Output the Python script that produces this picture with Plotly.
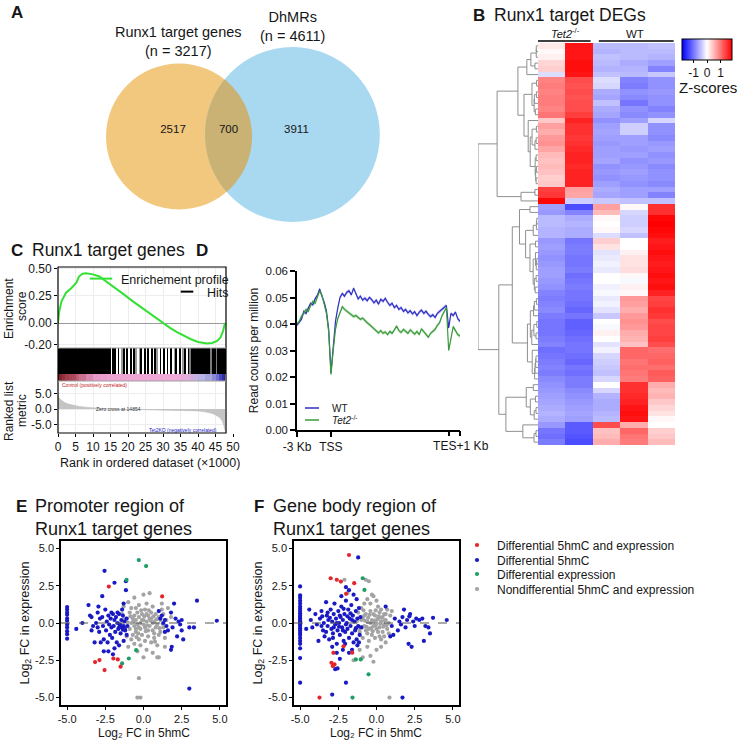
import numpy as np
import plotly.graph_objects as go

W, H = 746, 740
FONT = "Liberation Sans, Arial, Helvetica, sans-serif"
INK = "#161616"


def X(px):
    return px / W


def Y(py):
    return 1 - py / H


# ======================= DATA =======================
# --- A: Venn ---
venn_set_names = ["Runx1 target genes", "DhMRs"]
venn_set_sizes = [3217, 4611]
venn_region_counts = [2517, 700, 3911]

# --- B: heatmap of z-scores (rows in clustered order) ---
heat_samples = ["Tet2-/- #1", "Tet2-/- #2", "WT #1", "WT #2", "WT #3"]
tet2_rep1 = [0.15, 0.05, 0.1, 0.3, 0.35, -0.25, 0.9, 0.95, 0.9, 0.95, 0.95, 0.9, 1.0, 0.4,
             0.7, 0.6, 0.75, 0.8, 0.65, 0.5, 0.45, 0.5, 0.45, 0.35, 0.4, 1.4, 1.45, 1.8,
             -0.7, -0.75, -0.5, -0.5, -0.55, -0.55, -0.75, -0.7, -0.75, -0.8, -0.75, -0.7, -0.7, -0.75,
             -0.8, -0.9, -0.95, -0.9, -0.85, -0.95, -1.0, -1.0, -1.0, -0.95, -0.9, -1.05, -1.0, -0.95,
             -0.9, -0.95, -0.85, -0.8, -0.75, -0.7, -0.65, -0.6, -0.55, -0.6, -0.75, -1.0, -1.05, -0.95]
tet2_rep2 = [1.7, 1.7, 1.7, 1.75, 1.75, 1.7, 1.3, 1.25, 1.3, 1.25, 1.3, 1.3, 1.4, 1.6,
             1.5, 1.5, 1.45, 1.5, 1.55, 1.6, 1.6, 1.55, 1.6, 1.6, 1.6, 0.7, 0.65, -0.35,
             -1.3, -0.9, -0.6, -0.55, -0.6, -0.6, -1.0, -0.95, -0.95, -1.0, -1.0, -0.95, -1.05, -1.0,
             -0.95, -1.0, -1.0, -1.05, -1.1, -1.0, -1.15, -1.15, -1.1, -1.05, -1.0, -1.0, -1.05, -1.1,
             -1.0, -1.05, -0.95, -0.95, -0.85, -0.8, -0.75, -0.7, -0.65, -0.7, -1.2, -1.2, -1.25, -1.3]
wt_rep1 = [-0.5, -0.55, -0.45, -0.5, -0.55, -0.45, -0.25, -0.3, -0.6, -0.65, -0.45, -0.6, -0.65, -0.8,
           -0.7, -0.65, -0.7, -0.75, -0.7, -0.7, -0.65, -0.8, -0.75, -0.8, -0.7, -0.6, -0.65, -0.4,
           0.7, 0.5, 0.05, 0.0, 0.05, -0.25, 0.35, 0.2, -0.2, -0.15, -0.1, -0.15, 0.0, 0.0,
           -0.1, -0.05, -0.15, -0.1, -0.2, -0.4, 0.0, -0.05, 0.1, 0.0, -0.2, -0.1, -0.3, -0.35,
           -0.4, -0.45, -0.3, 0.0, -0.3, -0.55, -0.6, -0.6, -0.55, -0.5, 1.3, 0.45, 0.5, 0.6]
wt_rep2 = [-0.5, -0.5, -0.5, -0.6, -0.55, -0.5, -0.9, -0.95, -0.8, -0.85, -1.0, -0.8, -0.85, -0.7,
           -0.35, -0.35, -0.7, -0.7, -0.75, -0.7, -0.8, -0.75, -0.7, -0.75, -0.8, -0.7, -0.7, -0.45,
           0.05, -0.3, -0.35, -0.35, -0.3, -0.45, 0.0, 0.0, 0.1, 0.2, 0.2, 0.25, 0.05, -0.05,
           0.1, 0.05, 0.75, 0.7, 0.6, 0.75, 0.8, 0.75, 0.6, 0.55, 0.45, 1.1, 1.1, 1.0,
           1.05, 1.0, 0.95, 1.5, 1.5, 1.55, 1.6, 1.7, 1.75, 1.7, 0.6, 1.1, 1.0, 0.95]
wt_rep3 = [-0.45, -0.5, -0.55, -0.7, -0.9, -0.4, -0.8, -0.8, -0.75, -0.8, -0.8, -0.9, -0.8, -0.3,
           -0.8, -0.8, -0.85, -0.75, -0.7, -0.8, -0.75, -0.85, -0.8, -0.8, -0.85, -0.7, -0.9, -0.45,
           1.5, 1.5, 1.8, 1.85, 1.8, 1.75, 1.65, 1.7, 1.75, 1.7, 1.65, 1.7, 1.75, 1.7,
           1.75, 1.6, 1.35, 1.4, 1.5, 1.45, 1.3, 1.35, 1.35, 1.4, 1.3, 1.05, 1.1, 1.15,
           1.05, 1.2, 1.15, 0.6, 0.5, 0.55, 0.4, 0.3, 0.2, 0.05, 0.0, 0.35, 0.4, 0.5]
zscore_ticks = [-1, 0, 1]

# --- C: GSEA ---
es_rank_k = [0, 0.3, 1, 2.3, 3.7, 5.2, 6, 7, 8, 10, 11.8, 14, 16.7, 19, 21.4, 24, 26, 28, 30,
             32, 34, 36, 38, 40, 41.5, 42.6, 44, 45.5, 46.5, 47.2, 47.7]
es_score = [0, 0.1, 0.2, 0.28, 0.32, 0.37, 0.43, 0.455, 0.46, 0.45, 0.43, 0.38, 0.32, 0.26, 0.2,
            0.14, 0.09, 0.045, 0.0, -0.045, -0.085, -0.12, -0.15, -0.175, -0.185, -0.19, -0.185,
            -0.165, -0.13, -0.07, 0.0]
hit_bin_k = [i * 0.5 for i in range(97)]
hit_density = ([1] * 30 +
               [0, 1, 1, 0, 1, 0, 0.5, 1, 0, 1, 0, 1, 0, 1, 0.5, 0, 0.5, 1, 0, 1, 0, 1,
                0, 1, 0, 1, 0.5, 0, 1, 0, 1, 0, 1, 0, 1, 0, 0.5, 1, 0, 1, 0, 0.5, 1, 0] +
               [1, 0.6, 1, 1, 1, 1, 1, 1, 1, 1, 1, 1, 1, 0.6, 1, 1, 0.6, 1, 1, 1, 1, 1])
metric_rank_k = [0, 0.3, 1, 2, 3, 4, 5, 6, 8, 10, 12, 14, 14.85, 17, 20, 25, 30, 35, 38, 40,
                 42, 44, 45, 46, 46.8, 47.3, 47.7]
metric_value = [4.8, 3.6, 2.8, 2.0, 1.6, 1.3, 1.05, 0.85, 0.6, 0.4, 0.25, 0.1, 0, -0.05, -0.1,
                -0.15, -0.2, -0.3, -0.45, -0.6, -0.9, -1.4, -1.9, -2.6, -3.6, -5.0, -7.0]
gsea_rank_ticks = [0, 5, 10, 15, 20, 25, 30, 35, 40, 45, 50]

# --- D: 5hmC profile ---
profile_bin = list(range(0, 145, 2))
profile_ticks = [0, 30, 134, 144]
profile_ticklabels = ["-3 Kb", "TSS", "TES", "+1 Kb"]
wt_profile = [0.0396, 0.0405, 0.0418, 0.0448, 0.0440, 0.0460, 0.0478, 0.0472, 0.0495, 0.0508,
              0.0532, 0.0505, 0.0482, 0.0450, 0.0380, 0.0215, 0.0310, 0.0410, 0.0460, 0.0500,
              0.0515, 0.0505, 0.0520, 0.0525, 0.0510, 0.0535, 0.0515, 0.0495, 0.0505, 0.0490,
              0.0498, 0.0488, 0.0500, 0.0492, 0.0480, 0.0490, 0.0475, 0.0493, 0.0485, 0.0497,
              0.0482, 0.0470, 0.0478, 0.0462, 0.0470, 0.0455, 0.0462, 0.0448, 0.0455, 0.0442,
              0.0450, 0.0438, 0.0446, 0.0432, 0.0445, 0.0452, 0.0440, 0.0448, 0.0436, 0.0428,
              0.0435, 0.0425, 0.0440, 0.0448, 0.0455, 0.0462, 0.0470, 0.0385, 0.0440, 0.0432,
              0.0445, 0.0420, 0.0410]
tet2_profile = [0.0400, 0.0410, 0.0430, 0.0440, 0.0455, 0.0448, 0.0470, 0.0485, 0.0478, 0.0500,
                0.0525, 0.0510, 0.0470, 0.0440, 0.0370, 0.0210, 0.0300, 0.0380, 0.0420, 0.0440,
                0.0465, 0.0455, 0.0448, 0.0440, 0.0435, 0.0428, 0.0432, 0.0425, 0.0418, 0.0422,
                0.0412, 0.0405, 0.0398, 0.0390, 0.0380, 0.0372, 0.0366, 0.0375, 0.0365, 0.0370,
                0.0360, 0.0372, 0.0365, 0.0378, 0.0392, 0.0375, 0.0368, 0.0380, 0.0372, 0.0365,
                0.0378, 0.0370, 0.0362, 0.0372, 0.0360, 0.0382, 0.0370, 0.0362, 0.0350, 0.0365,
                0.0372, 0.0380, 0.0395, 0.0405, 0.0430, 0.0445, 0.0462, 0.0300, 0.0340, 0.0390,
                0.0375, 0.0360, 0.0355]
profile_sem = 0.0007

# --- E: promoter scatter (log2 FC 5hmC, log2 FC expression) ---
e_red = [(-2.27, 2.44), (1.22, 1.78), (-3.17, -2.62), (-2.88, -2.49), (-2.55, -3.16),
         (-1.97, -2.38), (-1.68, -2.44), (-1.5, -2.93)]
e_green = [(-0.31, 4.22), (0.17, 3.82), (-1.11, 2.89), (-0.48, -1.82), (-0.96, -2.38), (-1.4, -2.71)]
e_blue = [(-5, 1.07), (-5, 0.9), (-5, 0.7), (-5, 0.55), (-5, 0.3), (-5, 0.15), (-5, -0.1), (-5, -0.3),
          (-5, -0.55), (-5, -0.75), (-5, -1.05),
          (-4.4, -0.4), (-4.0, 0.0), (-3.6, 1.2), (-3.5, 0.5), (-3.4, 0.4), (-3.3, -0.2), (-3.2, -1.3),
          (-3.1, 0.0), (-3.0, 0.7), (-2.95, 1.1), (-2.9, -0.6), (-2.85, 0.3), (-2.8, -1.3), (-2.7, 0.4),
          (-2.65, -0.2), (-2.6, -1.1), (-2.55, 3.5), (-2.5, 0.9), (-2.45, -0.5), (-2.4, 0.1), (-2.35, -1.3),
          (-2.3, 0.5), (-2.25, -0.1), (-2.2, -0.8), (-2.15, 0.3), (-2.1, -0.3), (-2.05, -1.0), (-2.0, 0.6),
          (-1.95, -0.2), (-1.9, 2.7), (-1.9, 0.2), (-1.85, -0.6), (-1.8, 0.4), (-1.75, -1.3), (-1.7, 0.0),
          (-1.65, -0.4), (-1.6, 0.6), (-1.55, -0.1), (-1.5, -0.7), (-1.45, 0.2), (-1.4, -0.3), (-1.35, 0.5),
          (-1.3, -0.2), (-1.3, -1.2), (-1.25, 0.1), (-1.2, -0.5), (-1.15, 2.8), (-1.15, 2.2), (-1.1, 0.3),
          (-1.1, -0.8), (-1.05, -0.2), (-2.7, 1.8), (-3.4, -0.5), (-3.0, -0.3), (-2.3, -1.9), (-1.9, -1.7),
          (-2.0, -2.1), (-1.6, -1.5), (-2.6, -1.9), (-1.3, 1.3), (-1.4, 0.9), (-1.7, 0.7), (-2.1, 0.7),
          (-1.5, -0.15), (-1.35, -0.45), (-1.25, -0.35), (-1.45, -0.25), (-1.6, -0.3), (1.0, 0.8),
          (1.2, 0.5), (1.3, 0.0), (1.4, 0.2), (1.5, -0.2), (1.6, -0.5), (1.8, 0.7), (1.9, -0.3),
          (2.0, 1.3), (2.1, 0.3), (2.2, -0.9), (2.4, -0.1), (2.5, -0.5), (2.6, -1.1), (1.8, -1.8),
          (1.85, -1.6), (3.0, -0.3), (3.3, -0.3), (3.5, 1.5), (4.8, 0.15), (3.0, -4.4), (1.1, 0.3),
          (1.4, -0.6), (2.3, 0.1), (2.5, 0.2)]
e_gray = [(-1.2, 0.3), (-1.0, 1.4), (-0.8, 1.0), (-0.6, 0.5), (-0.5, 0.2), (-0.4, -0.1), (-0.3, 0.4),
          (-0.2, 0.0), (-0.1, 0.6), (0.0, 0.2), (0.1, -0.3), (0.2, 0.1), (0.3, 0.5), (0.4, -0.2),
          (0.5, 0.3), (0.6, -0.5), (0.7, 0.1), (0.8, 0.6), (0.9, -0.1), (1.0, 0.4), (1.1, -0.6),
          (1.2, 0.9), (1.3, -0.3), (1.5, 0.2), (-0.9, -0.4), (-0.7, -0.8), (-0.5, -0.6), (-0.3, -1.1),
          (-0.1, -0.8), (0.1, -1.2), (0.3, -0.9), (0.5, -1.3), (0.7, -1.0), (0.9, -1.5), (-0.6, 1.7),
          (-0.3, 1.2), (0.0, 1.9), (0.4, 2.0), (0.2, 1.3), (0.6, 1.1), (-0.8, 0.0), (-0.6, -0.2),
          (-0.4, 0.7), (-0.2, -0.4), (0.0, -0.1), (0.2, 0.6), (0.4, 0.3), (0.6, 0.0), (0.8, -0.3),
          (1.0, -0.8), (-1.1, -0.9), (-0.9, 0.7), (-0.7, 0.3), (-0.5, 1.0), (-0.3, -0.3), (-0.1, 0.2),
          (0.1, 0.9), (0.3, -0.5), (0.5, 0.7), (0.7, -0.7), (1.1, 0.2), (1.3, 0.6), (1.4, -1.0),
          (-1.0, -1.6), (-0.6, -1.4), (-0.2, -1.5), (0.2, -1.8), (0.6, -2.0), (1.0, -2.3), (1.4, -1.6),
          (-0.4, -1.9), (0.0, -2.3), (-0.3, -3.7), (-0.4, -5.0), (-0.2, -5.0), (0.9, -2.3), (1.6, 1.0),
          (1.8, 0.4), (1.2, 1.3), (-1.3, 1.1), (-1.4, 0.6), (-1.2, -0.4), (-0.8, -1.1), (-0.5, -0.4),
          (0.05, 0.45), (0.25, -0.15), (0.45, 0.15), (-0.15, 0.85), (-0.35, -0.7), (0.65, 0.45),
          (0.85, 0.25), (1.05, -0.35), (-0.65, 0.15), (-0.45, -0.95), (0.15, -0.55), (0.35, 0.85),
          (-0.85, 0.45), (0.75, -1.25), (-1.05, 0.05), (1.25, -0.05)]

# --- F: gene body scatter ---
f_red = [(-1.8, 4.56), (-3.0, 3.0), (-2.6, 2.9), (-2.33, 2.78), (-1.46, 2.67), (-1.99, 1.96),
         (-2.82, -2.0), (-2.95, -2.67), (-2.75, -2.78), (-2.86, -2.89), (-3.73, -5.0), (-1.59, -1.99),
         (-2.16, -1.56)]
f_green = [(-0.9, 3.0), (-0.79, 2.22), (-1.35, -2.44), (-1.03, -2.44), (-0.52, -3.44), (-1.57, -5.0)]
f_blue = [(-5, 2.45), (-5, 1.85), (-5, 1.7), (-5, 1.5), (-5, 1.3), (-5, 1.1), (-5, 0.95), (-5, 0.8),
          (-5, 0.65), (-5, 0.5), (-5, 0.4), (-5, 0.3), (-5, 0.2), (-5, 0.1), (-5, 0.0), (-5, -0.1),
          (-5, -0.2), (-5, -0.35), (-5, -0.5), (-5, -0.65), (-5, -0.8), (-5, -1.0), (-5, -1.2),
          (-5, -1.4), (-5, -1.7), (-5, -2.35), (-5, -4.0),
          (-4.6, -0.4), (-4.4, 0.9), (-4.3, 0.2), (-4.2, -0.3), (-4.0, 0.6), (-3.9, -0.1), (-3.8, -1.2),
          (-3.7, 0.3), (-3.6, 0.8), (-3.5, -0.5), (-3.45, 0.0), (-3.4, -0.9), (-3.3, 1.4), (-3.25, 0.5),
          (-3.2, -0.2), (-3.15, 0.2), (-3.1, -1.1), (-3.0, 0.9), (-2.95, -0.4), (-2.9, 0.1), (-2.85, -0.7),
          (-2.8, 0.6), (-2.75, 1.3), (-2.7, -0.1), (-2.65, 0.3), (-2.6, -1.4), (-2.55, -0.5), (-2.5, 0.8),
          (-2.45, 0.0), (-2.4, -0.8), (-2.35, 0.4), (-2.3, 1.1), (-2.25, -0.3), (-2.2, 0.2), (-2.15, -1.2),
          (-2.1, 0.6), (-2.05, -0.6), (-2.0, 1.5), (-1.95, 0.0), (-1.9, -0.4), (-1.85, 0.9), (-1.8, -1.0),
          (-1.75, 0.3), (-1.7, -0.2), (-1.65, 1.2), (-1.6, -0.7), (-1.55, 0.5), (-1.5, -1.3), (-1.45, 0.1),
          (-1.4, -0.5), (-1.35, 0.8), (-1.3, -1.1), (-1.25, 0.3), (-1.2, -0.2), (-1.15, 1.0), (-1.1, -0.8),
          (-1.05, 0.4), (-1.0, -0.3), (-2.9, -1.6), (-2.6, -2.0), (-2.4, -2.4), (-2.2, -1.8), (-1.8, -2.0),
          (-1.6, -1.8), (-2.7, -3.1), (-2.55, -3.05), (-2.0, 2.4), (-1.8, 2.2), (-2.3, 1.8), (-1.5, 1.9),
          (-1.3, 1.6), (-3.6, -0.2), (-3.2, 0.7), (-2.8, -0.3), (-2.4, 0.5), (-2.0, -0.1), (-1.6, 0.2),
          (-2.6, 0.0), (-2.2, -0.5), (-1.9, 0.45), (-2.45, -0.25), (-3.05, 0.35), (-1.7, 0.65),
          (-2.85, -1.0), (-2.15, 0.95), (-1.35, -0.35), (-1.25, -1.5), (-1.15, -1.3), (-2.05, -1.4),
          (-3.3, -0.6), (-3.55, 0.45), (-1.2, 4.4), (-2.9, -4.8), (-2.0, -4.0), (1.7, -5.0),
          (1.0, -0.2), (1.2, 0.3), (1.4, -0.5), (1.5, 0.1), (1.6, -0.1), (1.7, 0.4), (1.8, 0.9),
          (1.9, -0.3), (2.0, 0.2), (2.1, -1.4), (2.2, 0.6), (2.3, -1.6), (2.4, 0.1), (2.5, -0.2),
          (2.6, 0.3), (2.8, 0.2), (3.0, 0.3), (3.1, -1.2), (3.2, -0.2), (3.4, -0.3), (3.5, -0.7),
          (3.7, 0.35), (4.6, 0.2), (0.6, 1.1), (1.1, -0.8), (2.15, 0.45), (0.9, -0.9)]
f_gray = [(-1.2, 0.7), (-1.0, 1.0), (-0.9, 0.3), (-0.8, -0.2), (-0.7, 0.6), (-0.6, 0.1), (-0.5, -0.4),
          (-0.4, 0.8), (-0.3, 0.2), (-0.2, -0.2), (-0.1, 0.5), (0.0, 0.0), (0.1, 0.3), (0.2, -0.3),
          (0.3, 0.1), (0.4, 0.4), (0.5, -0.1), (0.6, 0.2), (0.7, -0.4), (0.8, 0.0), (0.9, 0.5),
          (-1.1, -0.6), (-0.9, -1.0), (-0.7, -0.5), (-0.5, -1.2), (-0.3, -0.8), (-0.1, -1.0), (0.1, -0.6),
          (0.3, -1.1), (0.5, -0.9), (-0.8, 1.3), (-0.6, 1.6), (-0.4, 1.3), (-0.2, 1.8), (0.0, 1.5),
          (-0.7, 2.9), (-0.5, 2.8), (-0.3, 1.9), (-1.0, 0.2), (-0.8, 0.5), (-0.6, -0.7), (-0.4, 0.0),
          (-0.2, 0.6), (0.0, -0.4), (0.2, 0.7), (0.4, -0.6), (0.6, 0.6), (0.8, -0.7), (-0.95, -0.3),
          (-0.75, 0.15), (-0.55, 0.35), (-0.35, -0.35), (-0.15, 0.15), (0.05, 0.25), (0.25, -0.05),
          (0.45, -0.25), (0.65, -0.15), (-0.85, 0.85), (-0.65, -0.25), (-0.45, 0.55), (-0.25, -0.55),
          (-0.05, -0.15), (0.15, 0.45), (0.35, 0.35), (0.55, 0.15), (-1.1, -1.8), (-0.9, -2.3),
          (-0.6, -1.6), (-0.4, -2.2), (-0.2, -2.6), (0.0, -1.8), (0.3, -1.6), (0.6, -1.3), (0.85, -5.0),
          (-2.1, 2.9), (-1.9, 2.0), (-1.5, -2.5), (0.1, 1.1), (0.3, 0.9), (0.5, 0.6), (1.0, 0.8),
          (0.7, 0.9), (-1.3, 0.1), (-1.15, -0.35), (0.2, -0.9), (-0.05, 0.85)]

scatter_ticks = [-5, -2.5, 0, 2.5, 5]
scatter_ticklabels = ["-5.0", "-2.5", "0.0", "2.5", "5.0"]
category_names = ["Differential 5hmC and expression", "Differential 5hmC",
                  "Differential expression", "Nondifferential 5hmC and expression"]
category_colors = ["#e3262c", "#1a1ac4", "#1f9e66", "#a3a3a3"]

# ======================= FIGURE =======================
fig = go.Figure()
shapes = []
annotations = []


def ann(text, px, py, size=12, xanchor="center", yanchor="middle", angle=0, color=INK, align="center"):
    annotations.append(dict(text=text, x=X(px), y=Y(py), xref="paper", yref="paper", showarrow=False,
                            font=dict(size=size, family=FONT, color=color), xanchor=xanchor,
                            yanchor=yanchor, textangle=angle, align=align))


def ghost(xa, ya, xs):
    fig.add_trace(go.Scatter(x=xs, y=[0] * len(xs), mode="markers", marker=dict(opacity=0),
                             xaxis=xa, yaxis=ya, showlegend=False, hoverinfo="skip"))


# ---------- A: Venn (area proportional) ----------
k = 73.0 / np.sqrt(venn_set_sizes[0])
r1, r2 = k * np.sqrt(venn_set_sizes[0]), k * np.sqrt(venn_set_sizes[1])
target_area = np.pi * k ** 2 * venn_region_counts[1]


def lens_area(d):
    a1 = np.arccos((d * d + r1 * r1 - r2 * r2) / (2 * d * r1))
    a2 = np.arccos((d * d + r2 * r2 - r1 * r1) / (2 * d * r2))
    return r1 * r1 * (a1 - np.sin(2 * a1) / 2) + r2 * r2 * (a2 - np.sin(2 * a2) / 2)


lo, hi = r2 - r1 + 1e-6, r1 + r2 - 1e-6
for _ in range(80):
    mid = (lo + hi) / 2
    if lens_area(mid) > target_area:
        lo = mid
    else:
        hi = mid
dist = (lo + hi) / 2
c1 = np.array([179.0, 136.5])
dy = -2.0
c2 = c1 + np.array([np.sqrt(dist ** 2 - dy ** 2), dy])

shapes.append(dict(type="circle", xref="x", yref="y", x0=c1[0] - r1, x1=c1[0] + r1,
                   y0=c1[1] - r1, y1=c1[1] + r1, fillcolor="#f1c87e", line=dict(width=0), layer="below"))
shapes.append(dict(type="circle", xref="x", yref="y", x0=c2[0] - r2, x1=c2[0] + r2,
                   y0=c2[1] - r2, y1=c2[1] + r2, fillcolor="#a9d8f1", line=dict(width=0), layer="below"))
th12 = np.arctan2(c2[1] - c1[1], c2[0] - c1[0])
al1 = np.arccos((dist ** 2 + r1 ** 2 - r2 ** 2) / (2 * dist * r1))
al2 = np.arccos((dist ** 2 + r2 ** 2 - r1 ** 2) / (2 * dist * r2))
t1 = np.linspace(th12 - al1, th12 + al1, 60)
t2 = np.linspace(th12 + np.pi - al2, th12 + np.pi + al2, 60)
lx = np.concatenate([c1[0] + r1 * np.cos(t1), c2[0] + r2 * np.cos(t2)])
ly = np.concatenate([c1[1] + r1 * np.sin(t1), c2[1] + r2 * np.sin(t2)])
path = "M" + " L".join(f"{a:.2f},{b:.2f}" for a, b in zip(lx, ly)) + " Z"
shapes.append(dict(type="path", xref="x", yref="y", path=path, fillcolor="#c9b273",
                   line=dict(width=0), layer="below"))

venn_text_x = [c1[0] - 6, ((c2[0] - r2) + (c1[0] + r1)) / 2, c2[0] + 4]
fig.add_trace(go.Scatter(x=venn_text_x, y=[130, 130, 130], mode="text",
                         text=[str(v) for v in venn_region_counts],
                         textfont=dict(size=11.5, family=FONT, color=INK),
                         xaxis="x", yaxis="y", showlegend=False, hoverinfo="skip"))
ann("<b>A</b>", 17, 12, size=17)
ann(f"{venn_set_names[0]}<br>(n = {venn_set_sizes[0]})", 178, 42, size=14.5)
ann(f"{venn_set_names[1]}<br>(n = {venn_set_sizes[1]})", 292, 27, size=14.5)

# ---------- B: heatmap + dendrogram ----------
Z = np.array([tet2_rep1, tet2_rep2, wt_rep1, wt_rep2, wt_rep3]).T
n_rows = Z.shape[0]
fig.add_trace(go.Heatmap(
    z=Z, x=list(range(5)), y=list(range(n_rows)), xaxis="x2", yaxis="y2",
    colorscale=[[0, "#0000ff"], [0.5, "#ffffff"], [1, "#ff0000"]], zmin=-1.85, zmax=1.85,
    hoverinfo="skip",
    colorbar=dict(orientation="h", x=X(707), xanchor="center", y=Y(39), yanchor="top",
                  len=50, lenmode="pixels", thickness=21, thicknessmode="pixels",
                  outlinecolor="black", outlinewidth=1, tickvals=zscore_ticks,
                  ticktext=[str(t) for t in zscore_ticks], ticks="outside", ticklen=3,
                  tickcolor="black", tickfont=dict(size=12, family=FONT, color=INK),
                  xpad=0, ypad=0)))

# contiguity-constrained complete linkage on Euclidean distance
Dm = np.sqrt(((Z[:, None, :] - Z[None, :, :]) ** 2).sum(-1))
clusters = [dict(lo=i, hi=i, y=float(i), h=0.0) for i in range(n_rows)]
dx, dyl = [], []
while len(clusters) > 1:
    best = None
    for j in range(len(clusters) - 1):
        a, b = clusters[j], clusters[j + 1]
        dd = Dm[a["lo"]:a["hi"] + 1, b["lo"]:b["hi"] + 1].max()
        if best is None or dd < best[0]:
            best = (dd, j)
    dd, j = best
    a, b = clusters[j], clusters[j + 1]
    h = max(dd, a["h"], b["h"])
    dx += [a["h"], h, h, b["h"], None]
    dyl += [a["y"], a["y"], b["y"], b["y"], None]
    clusters[j:j + 2] = [dict(lo=a["lo"], hi=b["hi"], y=(a["y"] + b["y"]) / 2, h=h)]
hmax = clusters[0]["h"]
fig.add_trace(go.Scatter(x=dx, y=dyl, mode="lines", line=dict(color="#8f8f8f", width=1),
                         xaxis="x3", yaxis="y3", showlegend=False, hoverinfo="skip"))

ann("<b>B</b>", 479, 15, size=17)
ann("Runx1 target DEGs", 492, 15, size=17.5, xanchor="left")
ann("<i>Tet2</i><sup>-/-</sup>", 565, 33, size=11)
ann("WT", 635, 34, size=11.5)
ann("Z-scores", 708, 87, size=15)
shapes.append(dict(type="line", xref="x2", yref="paper", x0=-0.5, x1=1.42, y0=Y(41), y1=Y(41),
                   line=dict(color="black", width=1.5)))
shapes.append(dict(type="line", xref="x2", yref="paper", x0=1.72, x1=4.45, y0=Y(41), y1=Y(41),
                   line=dict(color="black", width=1.5)))

# ---------- C: GSEA ----------
GREEN = "#35e035"
fig.add_trace(go.Scatter(x=es_rank_k, y=es_score, mode="lines", line=dict(color=GREEN, width=2),
                         xaxis="x4", yaxis="y4", showlegend=False, hoverinfo="skip"))
fig.add_trace(go.Heatmap(z=[hit_density], x=hit_bin_k, y=[0], xaxis="x5", yaxis="y5",
                         colorscale=[[0, "#ffffff"], [0.5, "#9a9a9a"], [1, "#000000"]],
                         zmin=0, zmax=1, showscale=False, hoverinfo="skip"))
fig.add_trace(go.Heatmap(z=[metric_value[:-1]], x=metric_rank_k, y=[0], xaxis="x6", yaxis="y6",
                         colorscale=[[0, "#1a1a8c"], [0.34, "#3434b4"], [0.545, "#b9b5e6"],
                                     [0.575, "#efaad8"], [0.625, "#e89ccb"], [0.70, "#b04a5e"],
                                     [1, "#6b1212"]],
                         zmin=-7, zmax=4.8, showscale=False, hoverinfo="skip"))
fig.add_trace(go.Scatter(x=metric_rank_k, y=metric_value, mode="lines", fill="tozeroy",
                         fillcolor="#c4c4c4", line=dict(color="#bdbdbd", width=0.5),
                         xaxis="x7", yaxis="y7", showlegend=False, hoverinfo="skip"))
ghost("x8", "y8", [0, 50])
# legend entries
fig.add_trace(go.Scatter(x=[None], y=[None], mode="markers", name="Enrichement profile",
                         marker=dict(symbol="line-ew-open", size=16, color=GREEN,
                                     line=dict(color=GREEN, width=2)),
                         xaxis="x4", yaxis="y4", legend="legend"))
fig.add_trace(go.Scatter(x=[None], y=[None], mode="markers", name="Hits",
                         marker=dict(symbol="line-ew-open", size=9, color="black",
                                     line=dict(color="black", width=2)),
                         xaxis="x4", yaxis="y4", legend="legend2"))

shapes.append(dict(type="rect", xref="x4 domain", yref="paper", x0=0, x1=1, y0=Y(433), y1=Y(267),
                   line=dict(color="black", width=1.2), fillcolor="rgba(0,0,0,0)"))
for yy in (348, 381):
    shapes.append(dict(type="line", xref="x4 domain", yref="paper", x0=0, x1=1, y0=Y(yy), y1=Y(yy),
                       line=dict(color="#a0a0a0", width=1)))
ann("<b>C</b>", 17, 250, size=17)
ann("Runx1 target genes", 30, 250, size=17.5, xanchor="left")
ann("Enrichment", 9, 309, size=12, angle=-90)
ann("score", 22, 306, size=12, angle=-90)
ann("Ranked list", 9, 411, size=12, angle=-90)
ann("metric", 22, 411, size=12, angle=-90)
ann("Rank in ordered dataset (×1000)", 150, 463, size=12.5)
ann("Control (positively correlated)", 60, 385, size=5, xanchor="left", color="#c02020")
ann("Zero cross at 14854", 94, 409, size=5, xanchor="left", color="#333333")
ann("Tet2KO (negatively correlated)", 147, 430, size=5, xanchor="left", color="#2020c0")

# ---------- D: profile ----------
BLUE_D = "#2f2fc0"
GREEN_D = "#3a983a"
wt_arr, tet_arr = np.array(wt_profile), np.array(tet2_profile)
for arr, col in ((wt_arr, "rgba(120,120,235,0.45)"), (tet_arr, "rgba(120,200,120,0.45)")):
    fig.add_trace(go.Scatter(x=profile_bin, y=arr + profile_sem, mode="lines", line=dict(width=0),
                             xaxis="x9", yaxis="y9", showlegend=False, hoverinfo="skip"))
    fig.add_trace(go.Scatter(x=profile_bin, y=arr - profile_sem, mode="lines", line=dict(width=0),
                             fill="tonexty", fillcolor=col, xaxis="x9", yaxis="y9",
                             showlegend=False, hoverinfo="skip"))
fig.add_trace(go.Scatter(x=profile_bin, y=wt_profile, mode="lines", line=dict(color=BLUE_D, width=1.2),
                         xaxis="x9", yaxis="y9", showlegend=False, hoverinfo="skip"))
fig.add_trace(go.Scatter(x=profile_bin, y=tet2_profile, mode="lines", line=dict(color=GREEN_D, width=1.2),
                         xaxis="x9", yaxis="y9", showlegend=False, hoverinfo="skip"))
ghost("x12", "y9", [0, 144])
ghost("x13", "y13", [0, 170])
fig.add_trace(go.Scatter(x=[None], y=[None], mode="markers", name="WT",
                         marker=dict(symbol="line-ew-open", size=10, color=BLUE_D,
                                     line=dict(color=BLUE_D, width=1.5)),
                         xaxis="x9", yaxis="y9", legend="legend3"))
fig.add_trace(go.Scatter(x=[None], y=[None], mode="markers", name="<i>Tet2</i><sup>-/-</sup>",
                         marker=dict(symbol="line-ew-open", size=10, color=GREEN_D,
                                     line=dict(color=GREEN_D, width=1.5)),
                         xaxis="x9", yaxis="y9", legend="legend4"))
ann("<b>D</b>", 202, 251, size=17)

# ---------- E / F scatter ----------
e_sets = [e_red, e_blue, e_green, e_gray]
f_sets = [f_red, f_blue, f_green, f_gray]
order = [3, 1, 2, 0]  # draw gray first, red last
for ax, sets in (("10", e_sets), ("11", f_sets)):
    for i in order:
        pts = sets[i]
        fig.add_trace(go.Scatter(
            x=[p[0] for p in pts], y=[p[1] for p in pts], mode="markers",
            marker=dict(size=4.2, color=category_colors[i], line=dict(width=0)),
            name=category_names[i], xaxis="x" + ax, yaxis="y" + ax,
            showlegend=(ax == "10"), legend=f"legend{5 + i}", hoverinfo="skip"))
    shapes.append(dict(type="line", xref=f"x{ax} domain", yref=f"y{ax}", x0=0, x1=1, y0=0, y1=0,
                       line=dict(color="#555555", width=1, dash="dash")))
ann("<b>E</b>", 21, 506, size=17)
ann("Promoter region of<br>Runx1 target genes", 33, 517, size=18, xanchor="left", align="left")
ann("<b>F</b>", 259, 506, size=17)
ann("Gene body region of<br>Runx1 target genes", 271, 517, size=18, xanchor="left", align="left")
ann("Log\u2082 FC in 5hmC", 143.5, 732.5, size=12)
ann("Log\u2082 FC in 5hmC", 376.5, 732.5, size=12)


# ======================= LAYOUT =======================
def hidden(**kw):
    d = dict(visible=False, fixedrange=True)
    d.update(kw)
    return d


tickfont = dict(size=12, family=FONT, color=INK)
gsea_x = dict(domain=[X(58), X(226)], range=[0, 48], showticklabels=False, ticks="",
              showgrid=True, gridcolor="#ededed", dtick=5, zeroline=False, showline=False, fixedrange=True)
scatter_ax = dict(showline=True, mirror=True, linecolor="black", linewidth=1.5, ticks="outside",
                  ticklen=3, tickwidth=1.2, tickcolor="black", showgrid=False, zeroline=False,
                  tickfont=dict(size=11, family=FONT, color=INK), fixedrange=True)
d_px = (460 - 297) / 144.0  # pixels per profile bin
d_label_ax_right = 492
sc_top, sc_bottom = 541, 705

layout = dict(
    width=W, height=H, margin=dict(l=0, r=0, t=0, b=0, autoexpand=False),
    paper_bgcolor="white", plot_bgcolor="rgba(0,0,0,0)",
    font=dict(family=FONT, color=INK, size=12),
    xaxis=hidden(domain=[0, X(380)], range=[0, 380], anchor="y"),
    yaxis=hidden(domain=[Y(230), 1], range=[230, 0], anchor="x"),
    xaxis2=hidden(domain=[X(538), X(675)], range=[-0.5, 4.5], anchor="y2"),
    yaxis2=hidden(domain=[Y(445), Y(43)], range=[n_rows - 0.5, -0.5], anchor="x2"),
    xaxis3=hidden(domain=[X(478), X(538)], range=[hmax, 0], anchor="y3"),
    yaxis3=hidden(domain=[Y(445), Y(43)], range=[n_rows - 0.5, -0.5], anchor="x3"),
    xaxis4=dict(gsea_x, anchor="y4"),
    yaxis4=dict(domain=[Y(348), Y(267)], range=[-0.231, 0.518], anchor="x4",
                tickvals=[0.5, 0.25, 0, -0.2], ticktext=["0.50", "0.25", "0.00", "-0.20"],
                ticks="outside", ticklen=3, tickcolor="black", showgrid=True, gridcolor="#ededed",
                zeroline=True, zerolinecolor="#9a9a9a", zerolinewidth=1, tickfont=tickfont,
                showline=False, fixedrange=True),
    xaxis5=hidden(domain=[X(58), X(226)], range=[0, 48], anchor="y5"),
    yaxis5=hidden(domain=[Y(374), Y(348)], range=[-0.5, 0.5], anchor="x5"),
    xaxis6=hidden(domain=[X(58), X(226)], range=[0, 48], anchor="y6"),
    yaxis6=hidden(domain=[Y(381), Y(374)], range=[-0.5, 0.5], anchor="x6"),
    xaxis7=dict(gsea_x, anchor="y7"),
    yaxis7=dict(domain=[Y(433), Y(381)], range=[-7.7, 9.0], anchor="x7",
                tickvals=[5, 0, -5], ticktext=["5.0", "0.0", "-5.0"], ticks="outside", ticklen=3,
                tickcolor="black", showgrid=True, gridcolor="#ededed", zeroline=False,
                tickfont=tickfont, showline=False, fixedrange=True),
    xaxis8=dict(domain=[X(58), X(58 + 168 * 50 / 48)], range=[0, 50], anchor="y8",
                tickvals=gsea_rank_ticks, ticks="outside", ticklen=3, tickcolor="black",
                showline=False, showgrid=False, zeroline=False, tickfont=tickfont, fixedrange=True),
    yaxis8=hidden(domain=[Y(433), Y(432)], range=[0, 1], anchor="x8"),
    xaxis9=dict(domain=[X(297), X(460)], range=[0, 144], anchor="y9", tickvals=profile_ticks[:2],
                ticktext=profile_ticklabels[:2], ticks="outside", ticklen=5, tickwidth=1.5,
                tickcolor="black", showline=True, linecolor="black", linewidth=1.5, tickangle=0,
                showgrid=False, zeroline=False, tickfont=tickfont, fixedrange=True),
    # tick marks for TES / +1 Kb
    xaxis12=dict(overlaying="x9", anchor="y9", range=[0, 144], tickvals=profile_ticks[2:],
                 ticks="outside", ticklen=5, tickwidth=1.5, tickcolor="black", showticklabels=False,
                 showline=False, showgrid=False, zeroline=False, fixedrange=True),
    # labels for TES / +1 Kb, on a wider carrier axis with the same scale
    xaxis13=dict(domain=[X(297), X(d_label_ax_right)], range=[0, (d_label_ax_right - 297) / d_px],
                 anchor="y13", tickvals=[profile_ticks[2] - 3.5, profile_ticks[3] + 11],
                 ticktext=profile_ticklabels[2:], ticks="outside", ticklen=5, tickwidth=1.5,
                 tickcolor="rgba(0,0,0,0)", showline=False, showgrid=False, zeroline=False,
                 tickangle=0, tickfont=tickfont, fixedrange=True),
    yaxis13=hidden(domain=[Y(430), Y(429)], range=[0, 1], anchor="x13"),
    yaxis9=dict(domain=[Y(430), Y(271)], range=[0, 0.06], anchor="x9",
                tickvals=[0, 0.01, 0.02, 0.03, 0.04, 0.05, 0.06], tickformat=".2f",
                ticks="outside", ticklen=5, tickwidth=1.5, tickcolor="black", showline=True,
                linecolor="black", linewidth=1.5, showgrid=False, zeroline=False,
                tickfont=dict(size=11.5, family=FONT, color=INK),
                title=dict(text="Read counts per million", font=dict(size=12, family=FONT), standoff=4),
                fixedrange=True),
    xaxis10=dict(scatter_ax, domain=[X(61), X(226)], range=[-5.4, 5.4], anchor="y10",
                 tickvals=scatter_ticks, ticktext=scatter_ticklabels),
    yaxis10=dict(scatter_ax, domain=[Y(sc_bottom), Y(sc_top)], range=[-5.5, 5.5], anchor="x10",
                 tickvals=scatter_ticks, ticktext=scatter_ticklabels,
                 title=dict(text="Log<sub>2</sub> FC in expression", font=dict(size=12.5, family=FONT), standoff=3)),
    xaxis11=dict(scatter_ax, domain=[X(294), X(459)], range=[-5.4, 5.4], anchor="y11",
                 tickvals=scatter_ticks, ticktext=scatter_ticklabels),
    yaxis11=dict(scatter_ax, domain=[Y(sc_bottom), Y(sc_top)], range=[-5.5, 5.5], anchor="x11",
                 tickvals=scatter_ticks, ticktext=scatter_ticklabels,
                 title=dict(text="Log<sub>2</sub> FC in expression", font=dict(size=12.5, family=FONT), standoff=3)),
    shapes=shapes, annotations=annotations,
)


def leg(px, py, size=12, xanchor="left"):
    return dict(x=X(px), y=Y(py), xanchor=xanchor, yanchor="middle", bgcolor="rgba(0,0,0,0)",
                borderwidth=0, font=dict(size=size, family=FONT, color=INK), itemwidth=30,
                tracegroupgap=0, itemclick=False, itemdoubleclick=False)


layout["legend"] = leg(234, 279, size=12.5, xanchor="right")
layout["legend2"] = leg(234, 292, size=12.5, xanchor="right")
layout["legend3"] = leg(292, 408, size=10)
layout["legend4"] = leg(292, 420, size=10)
for i, py in enumerate([545, 560, 574, 589]):
    layout[f"legend{5 + i}"] = leg(457, py, size=12)

fig.update_layout(**layout)
fig.write_html("out.html", config={"displayModeBar": False},
               post_script="document.body.style.margin='0px';document.body.style.padding='0px';")
